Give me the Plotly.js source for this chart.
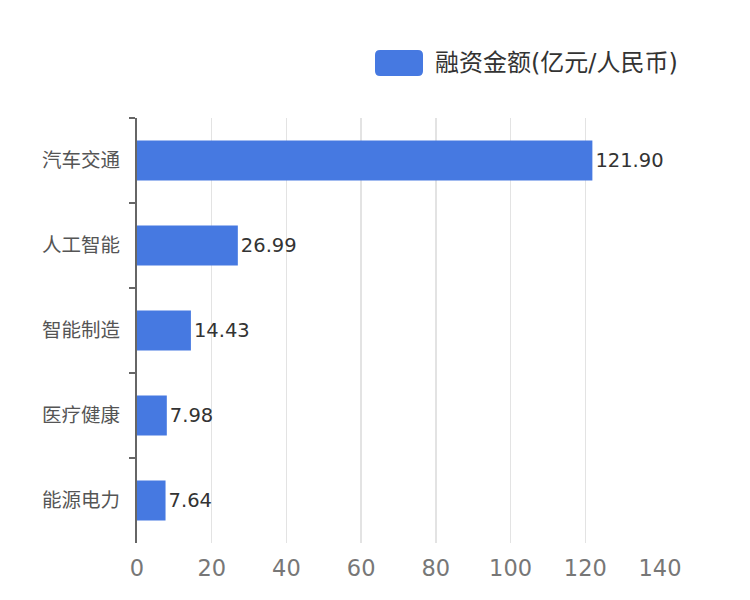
<!DOCTYPE html>
<html>
<head>
<meta charset="utf-8">
<script src="https://cdn.plot.ly/plotly-3.0.1.min.js"></script>
<style>html,body{margin:0;padding:0;background:#fff;}#chart{width:750px;height:600px;}</style>
</head>
<body>
<div id="chart"></div>
<script>
const categories = ["汽车交通", "人工智能", "智能制造", "医疗健康", "能源电力"];
const amounts = [121.90, 26.99, 14.43, 7.98, 7.64];
const seriesName = "融资金额(亿元/人民币)";
const xTicks = [0, 20, 40, 60, 80, 100, 120, 140];

const FONT = "DejaVu Sans, Noto Sans CJK SC, sans-serif";
const L = 137, R = 90, T = 118, B = 57, W = 750, H = 600;
const pw = W - L - R, ph = H - T - B;
const px = x => (x - L) / pw;
const py = y => (H - B - y) / ph;

const trace = {
  type: "bar",
  orientation: "h",
  y: categories,
  x: amounts,
  name: seriesName,
  marker: {color: "#4679E1"},
  texttemplate: "%{x:.2f}",
  textposition: "outside",
  cliponaxis: false,
  textfont: {family: FONT, size: 19.5, color: "#333333"},
  hoverinfo: "none"
};

const layout = {
  width: W, height: H,
  margin: {l: L, r: R, t: T, b: B, pad: 0},
  paper_bgcolor: "#ffffff",
  plot_bgcolor: "#ffffff",
  showlegend: false,
  bargap: 0.53,
  font: {family: FONT},
  xaxis: {
    range: [0, 140],
    tickvals: xTicks,
    ticktext: xTicks.map(String),
    showgrid: true,
    gridcolor: "#e3e3e3",
    gridwidth: 1.5,
    zeroline: false,
    showline: false,
    ticks: "",
    tickfont: {family: FONT, size: 22.5, color: "#777777"},
    ticklabelstandoff: 9
  },
  yaxis: {
    type: "category",
    autorange: "reversed",
    showgrid: false,
    zeroline: false,
    showline: true,
    linecolor: "#666666",
    linewidth: 2,
    ticks: "outside",
    tickson: "boundaries",
    ticklen: 6,
    tickwidth: 2,
    tickcolor: "#666666",
    tickfont: {family: FONT, size: 19.5, color: "#555555"},
    ticklabelstandoff: 11
  },
  shapes: [{
    type: "path",
    xref: "paper", yref: "paper",
    xsizemode: "pixel", ysizemode: "pixel",
    xanchor: px(399), yanchor: py(63),
    path: "M -19,-13 L 19,-13 Q 24,-13 24,-8 L 24,8 Q 24,13 19,13 L -19,13 Q -24,13 -24,8 L -24,-8 Q -24,-13 -19,-13 Z",
    fillcolor: "#4679E1",
    line: {width: 0}
  }],
  annotations: [{
    xref: "paper", yref: "paper",
    x: px(433), y: py(63),
    xanchor: "left", yanchor: "middle",
    text: seriesName,
    showarrow: false,
    font: {family: FONT, size: 24, color: "#333333"}
  }]
};

Plotly.newPlot("chart", [trace], layout, {displayModeBar: false, staticPlot: true});
</script>
</body>
</html>
